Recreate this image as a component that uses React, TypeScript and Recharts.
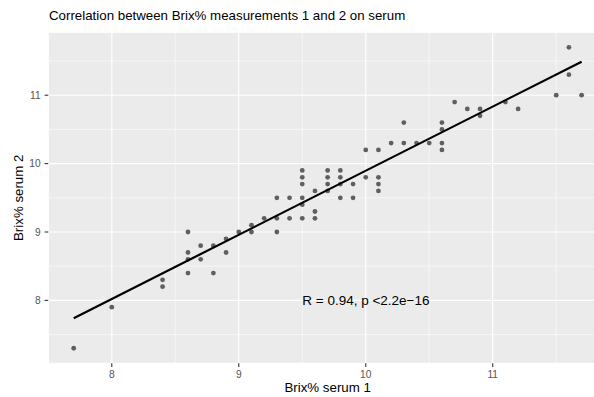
import React from "react";
import {
  ScatterChart,
  Scatter,
  XAxis,
  YAxis,
  CartesianGrid,
  ReferenceLine,
} from "recharts";

const FONT = "'Liberation Sans', Arial, Helvetica, sans-serif";

// Brix% serum 1 (x) vs Brix% serum 2 (y)
const serum1 = [
  7.7, 8.0, 8.4, 8.4, 8.6, 8.6, 8.6, 8.6, 8.7, 8.7, 8.8, 8.8, 8.9, 8.9, 9.0,
  9.1, 9.1, 9.2, 9.3, 9.3, 9.3, 9.4, 9.4, 9.5, 9.5, 9.5, 9.5, 9.5, 9.5, 9.6,
  9.6, 9.6, 9.7, 9.7, 9.7, 9.7, 9.8, 9.8, 9.8, 9.8, 9.9, 9.9, 10.0, 10.0,
  10.1, 10.1, 10.1, 10.1, 10.2, 10.3, 10.3, 10.4, 10.5, 10.6, 10.6, 10.6,
  10.6, 10.7, 10.8, 10.9, 10.9, 11.1, 11.2, 11.5, 11.6, 11.6, 11.7,
];
const serum2 = [
  7.3, 7.9, 8.3, 8.2, 9.0, 8.7, 8.6, 8.4, 8.8, 8.6, 8.8, 8.4, 8.9, 8.7, 9.0,
  9.1, 9.0, 9.2, 9.5, 9.2, 9.0, 9.5, 9.2, 9.9, 9.8, 9.7, 9.5, 9.4, 9.2, 9.6,
  9.3, 9.2, 9.9, 9.8, 9.7, 9.6, 9.9, 9.8, 9.7, 9.5, 9.7, 9.5, 10.2, 9.8,
  10.2, 9.8, 9.7, 9.6, 10.3, 10.6, 10.3, 10.3, 10.3, 10.6, 10.5, 10.3,
  10.2, 10.9, 10.8, 10.8, 10.7, 10.9, 10.8, 11.0, 11.7, 11.3, 11.0,
];

// ends of the fitted line
const fitX = [7.7, 11.7];
const fitY = [7.74, 11.49];

const xTicks = [8, 9, 10, 11];
const yTicks = [8, 9, 10, 11];
const xMinor = [8.5, 9.5, 10.5, 11.5];
const yMinor = [7.5, 8.5, 9.5, 10.5, 11.5];

const corLabel = "R = 0.94, p <2.2e\u221216";
const corPos = { x: 9.5, y: 8 };

const points = serum1.map((x, i) => ({ x, y: serum2[i] }));
const fitLine = fitX.map((x, i) => ({ x, y: fitY[i] }));
const annotation = [{ ...corPos, label: corLabel }];

export default function App() {
  return (
    <div
      style={{
        position: "absolute",
        left: 0,
        top: 0,
        width: 594,
        height: 397,
        overflow: "hidden",
        background: "#fff",
      }}
    >
      <div
        style={{
          position: "absolute",
          left: 49,
          top: 8.6,
          fontFamily: FONT,
          fontSize: 13.3,
          lineHeight: 1,
          color: "#000",
          whiteSpace: "nowrap",
        }}
      >
        Correlation between Brix% measurements 1 and 2 on serum
      </div>
      <ScatterChart
        width={607}
        height={397}
        margin={{ top: 32.3, right: 0, bottom: 0, left: 0 }}
      >
        <CartesianGrid
          stroke="#fff"
          strokeWidth={1.1}
          fill="#EBEBEB"
          fillOpacity={1}
        />
        {xMinor.map((v) => (
          <ReferenceLine key={"vx" + v} x={v} stroke="#fff" strokeWidth={0.55} />
        ))}
        {yMinor.map((v) => (
          <ReferenceLine key={"hy" + v} y={v} stroke="#fff" strokeWidth={0.55} />
        ))}
        <XAxis
          type="number"
          dataKey="x"
          domain={[7.5, 11.9]}
          ticks={xTicks}
          allowDataOverflow
          height={33.7}
          axisLine={false}
          tickSize={3.7}
          tickMargin={3.5}
          tickLine={{ stroke: "#333", strokeWidth: 1.1 }}
          tick={{ fill: "#555", fontSize: 10.2, fontFamily: FONT }}
          label={{
            content: ({ viewBox }: any) => (
              <text
                x={viewBox.x + viewBox.width / 2}
                y={viewBox.y + 28.5}
                textAnchor="middle"
                fontFamily={FONT}
                fontSize={13.3}
                fill="#000"
              >
                Brix% serum 1
              </text>
            ),
          }}
        />
        <YAxis
          type="number"
          dataKey="y"
          domain={[7.08, 11.92]}
          ticks={yTicks}
          allowDataOverflow
          width={48.3}
          axisLine={false}
          tickSize={3.7}
          tickMargin={4}
          tickLine={{ stroke: "#333", strokeWidth: 1.1 }}
          tick={{ fill: "#555", fontSize: 10.2, fontFamily: FONT }}
          label={{
            content: ({ viewBox }: any) => {
              const cx = 18.5;
              const cy = viewBox.y + viewBox.height / 2;
              return (
                <text
                  x={cx}
                  y={cy}
                  transform={`rotate(-90 ${cx} ${cy})`}
                  textAnchor="middle"
                  dominantBaseline="central"
                  fontFamily={FONT}
                  fontSize={13.3}
                  fill="#000"
                >
                  Brix% serum 2
                </text>
              );
            },
          }}
        />
        <Scatter
          data={points}
          isAnimationActive={false}
          shape={(p: any) => (
            <circle cx={p.cx} cy={p.cy} r={2.4} fill="#5f5f5f" />
          )}
        />
        <Scatter
          data={fitLine}
          isAnimationActive={false}
          line={{ stroke: "#000", strokeWidth: 2.2 }}
          shape={() => <g />}
        />
        <Scatter
          data={annotation}
          isAnimationActive={false}
          shape={(p: any) => (
            <text
              x={p.cx}
              y={p.cy}
              dominantBaseline="central"
              fontFamily={FONT}
              fontSize={13.5}
              fill="#000"
            >
              {p.payload.label}
            </text>
          )}
        />
      </ScatterChart>
    </div>
  );
}
